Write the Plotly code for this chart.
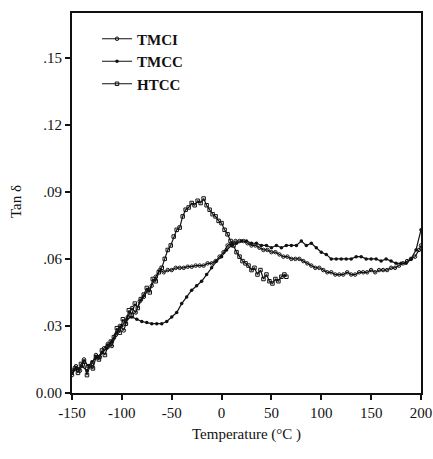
import plotly.graph_objects as go

# ---- data ----
htcc_x = [-150, -147, -144, -141, -138, -135, -132, -129, -126, -123, -120, -117, -114, -111,
          -108, -105, -102, -99, -96, -93, -90, -87, -84, -81, -78, -75, -72, -69, -66, -63,
          -60, -57, -54, -51, -48, -45, -42, -39, -36, -33, -30, -27, -24, -21, -18, -15,
          -12, -9, -6, -3, 0, 3, 6, 9, 12, 15, 18, 21, 24, 27, 30, 33, 36, 39, 42, 45, 48,
          51, 54, 57, 60, 63, 65]
htcc_y = [0.010, 0.011, 0.009, 0.013, 0.014, 0.008, 0.012, 0.011, 0.016, 0.015, 0.019, 0.017,
          0.021, 0.023, 0.025, 0.029, 0.027, 0.033, 0.031, 0.037, 0.035, 0.040, 0.038, 0.042,
          0.044, 0.047, 0.045, 0.051, 0.050, 0.054, 0.056, 0.060, 0.064, 0.066, 0.070, 0.073,
          0.074, 0.079, 0.082, 0.083, 0.085, 0.084, 0.086, 0.085, 0.087, 0.084, 0.082, 0.080,
          0.079, 0.077, 0.076, 0.073, 0.071, 0.068, 0.066, 0.063, 0.061, 0.059, 0.058, 0.057,
          0.055, 0.056, 0.053, 0.055, 0.051, 0.053, 0.050, 0.049, 0.051, 0.050, 0.052, 0.053,
          0.052]

tmcc_x = [-150, -145, -140, -135, -130, -125, -120, -115, -110, -105, -100, -95, -90, -85,
          -80, -75, -70, -65, -60, -55, -50, -45, -40, -35, -30, -25, -20, -15, -10, -5, 0,
          5, 10, 15, 20, 25, 30, 35, 40, 45, 50, 55, 60, 65, 70, 75, 80, 85, 90, 95, 100,
          105, 110, 115, 120, 125, 130, 135, 140, 145, 150, 155, 160, 165, 170, 175, 180,
          185, 190, 195, 200]
tmcc_y = [0.009, 0.011, 0.012, 0.010, 0.014, 0.016, 0.018, 0.020, 0.023, 0.027, 0.030, 0.033,
          0.034, 0.033, 0.032, 0.0315, 0.031, 0.031, 0.031, 0.032, 0.034, 0.036, 0.040, 0.043,
          0.046, 0.048, 0.050, 0.053, 0.056, 0.059, 0.061, 0.064, 0.066, 0.067, 0.068, 0.068,
          0.067, 0.067, 0.066, 0.066, 0.065, 0.066, 0.065, 0.066, 0.066, 0.066, 0.068, 0.066,
          0.067, 0.065, 0.063, 0.062, 0.060, 0.060, 0.060, 0.060, 0.060, 0.061, 0.061, 0.060,
          0.060, 0.060, 0.059, 0.060, 0.059, 0.058, 0.058, 0.058, 0.060, 0.064, 0.073]

tmci_x = [-150, -146, -142, -138, -134, -130, -126, -122, -118, -114, -110, -106, -102, -98,
          -94, -90, -86, -82, -78, -74, -70, -66, -62, -58, -54, -50, -46, -42, -38, -34, -30,
          -26, -22, -18, -14, -10, -6, -2, 2, 6, 10, 14, 18, 22, 26, 30, 34, 38, 42, 46, 50,
          54, 58, 62, 66, 70, 74, 78, 82, 86, 90, 94, 98, 102, 106, 110, 114, 118, 122, 126,
          130, 134, 138, 142, 146, 150, 154, 158, 162, 166, 170, 174, 178, 182, 186, 190,
          194, 198, 200]
tmci_y = [0.008, 0.012, 0.010, 0.015, 0.012, 0.013, 0.017, 0.016, 0.020, 0.022, 0.021, 0.026,
          0.030, 0.028, 0.034, 0.038, 0.036, 0.041, 0.043, 0.046, 0.048, 0.052, 0.055, 0.054,
          0.055, 0.055, 0.056, 0.056, 0.056, 0.0565, 0.0565, 0.057, 0.057, 0.057, 0.058, 0.058,
          0.059, 0.061, 0.063, 0.066, 0.067, 0.068, 0.068, 0.068, 0.067, 0.066, 0.066, 0.065,
          0.064, 0.064, 0.063, 0.063, 0.062, 0.061, 0.061, 0.060, 0.060, 0.060, 0.059, 0.058,
          0.057, 0.056, 0.056, 0.055, 0.054, 0.054, 0.053, 0.053, 0.053, 0.054, 0.053, 0.053,
          0.054, 0.054, 0.054, 0.055, 0.054, 0.055, 0.055, 0.055, 0.056, 0.056, 0.057, 0.058,
          0.059, 0.060, 0.061, 0.064, 0.066]

x_ticks = [-150, -100, -50, 0, 50, 100, 150, 200]
x_tick_text = ["-150", "-100", "-50", "0", "50", "100", "150", "200"]
y_ticks = [0.0, 0.03, 0.06, 0.09, 0.12, 0.15]
y_tick_text = ["0.00", ".03", ".06", ".09", ".12", ".15"]

FONT = "Liberation Serif"
INK = "#111111"
W, H = 433, 459
ML, MR, MT, MB = 72, 12, 13, 66

fig = go.Figure()
fig.add_trace(go.Scatter(x=tmci_x, y=tmci_y, name="TMCI", mode="lines+markers",
                         line=dict(color=INK, width=1.2),
                         marker=dict(symbol="circle-open", size=3.5, color=INK, line=dict(width=1))))
fig.add_trace(go.Scatter(x=tmcc_x, y=tmcc_y, name="TMCC", mode="lines+markers",
                         line=dict(color=INK, width=1.2),
                         marker=dict(symbol="circle", size=3.5, color=INK)))
fig.add_trace(go.Scatter(x=htcc_x, y=htcc_y, name="HTCC", mode="lines+markers",
                         line=dict(color=INK, width=1.2),
                         marker=dict(symbol="square-open", size=3.5, color=INK, line=dict(width=1))))

plot_h = H - MT - MB
plot_w = W - ML - MR

fig.update_layout(
    width=W, height=H,
    margin=dict(l=ML, r=MR, t=MT, b=MB, autoexpand=False),
    paper_bgcolor="white", plot_bgcolor="white",
    font=dict(family=FONT, size=15, color=INK),
    showlegend=True,
    legend=dict(x=(97 - ML) / plot_w, y=0.975, xanchor="left", yanchor="top",
                bgcolor="rgba(0,0,0,0)", font=dict(family=FONT, size=15, color=INK, weight="bold"),
                tracegroupgap=0, itemwidth=30),
    xaxis=dict(range=[-150, 200], tickvals=x_ticks, ticktext=x_tick_text, ticks="outside",
               ticklen=5, tickwidth=1.5, tickcolor=INK, showline=True, linecolor=INK,
               linewidth=2, mirror=True, showgrid=False, zeroline=False, automargin=False,
               tickfont=dict(family=FONT, size=15)),
    yaxis=dict(range=[0, 0.17], tickvals=y_ticks, ticktext=y_tick_text, ticks="outside",
               ticklen=5, tickwidth=1.5, tickcolor=INK, showline=True, linecolor=INK,
               linewidth=2, mirror=True, showgrid=False, zeroline=False, automargin=False,
               tickfont=dict(family=FONT, size=15)),
    annotations=[
        dict(text="Temperature (°C )", x=0.5, y=(H - MB - 434) / plot_h, xref="paper",
             yref="paper", showarrow=False, xanchor="center", yanchor="middle",
             font=dict(family=FONT, size=15)),
        dict(text="Tan δ", x=(16 - ML) / plot_w, y=(H - MB - 201) / plot_h, xref="paper",
             yref="paper", showarrow=False, textangle=-90, xanchor="center",
             yanchor="middle", font=dict(family=FONT, size=15)),
    ],
)

fig.write_html("out.html", config={"displayModeBar": False},
               post_script="document.body.style.margin='0px';")
